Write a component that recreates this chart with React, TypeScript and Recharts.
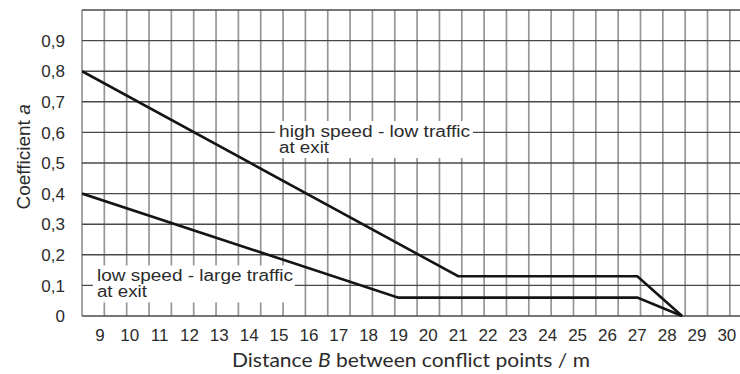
import { LineChart, Line, XAxis, YAxis, CartesianGrid, ReferenceDot, Label } from "recharts"

const xTicks = [9, 10, 11, 12, 13, 14, 15, 16, 17, 18, 19, 20, 21, 22, 23, 24, 25, 26, 27, 28, 29, 30]
const yTicks = [0, 0.1, 0.2, 0.3, 0.4, 0.5, 0.6, 0.7, 0.8, 0.9, 1]

// high speed - low traffic at exit
const highDist = [8.4, 21, 27, 28.5]
const highCoef = [0.8, 0.13, 0.13, 0]
// low speed - large traffic at exit
const lowDist = [8.4, 19, 27, 28.5]
const lowCoef = [0.4, 0.06, 0.06, 0]

const highData = highDist.map((d, i) => ({ dist: d, a: highCoef[i] }))
const lowData = lowDist.map((d, i) => ({ dist: d, a: lowCoef[i] }))

const FONT = "'Liberation Sans', Arial, sans-serif"
const TEXT = "#2b2b2b"

const XTick = ({ x, y, payload }: any) => (
  <text x={x} y={y + 25} textAnchor="middle" fontFamily={FONT} fontSize={17} fill={TEXT}>
    {payload.value}
  </text>
)

const YTick = ({ x, y, payload }: any) => {
  if (payload.value >= 1) return null
  const txt = payload.value === 0 ? "0" : payload.value.toFixed(1).replace(".", ",")
  return (
    <text x={x - 17} y={y} dy="0.36em" textAnchor="end" fontFamily={FONT} fontSize={17} fill={TEXT}>
      {txt}
    </text>
  )
}

const YTitle = ({ viewBox }: any) => {
  const cx = viewBox.x + 30
  const cy = viewBox.y + viewBox.height * 0.48
  return (
    <text transform={`translate(${cx},${cy}) rotate(-90)`} textAnchor="middle" fontFamily={FONT} fontSize={19} fill={TEXT}>
      Coefficient <tspan fontStyle="italic">a</tspan>
    </text>
  )
}

const XTitle = ({ viewBox }: any) => (
  <text
    x={viewBox.x + viewBox.width / 2 - 179}
    y={viewBox.y + 51}
    textLength={358}
    lengthAdjust="spacingAndGlyphs"
    fontFamily="Lato, 'Liberation Sans', sans-serif"
    fontSize={20}
    fill={TEXT}
  >
    Distance <tspan fontStyle="italic">B</tspan> between conflict points / m
  </text>
)

const noteBox = (lines: string[], lens: number[], w: number) => (props: any) => {
  const { cx, cy } = props
  return (
    <g>
      <rect x={cx - 4} y={cy - 16} width={w} height={37} fill="#fff" />
      {lines.map((t, i) => (
        <text
          key={i}
          x={cx}
          y={cy + i * 16}
          textLength={lens[i]}
          lengthAdjust="spacingAndGlyphs"
          fontFamily={FONT}
          fontSize={16}
          fill={TEXT}
        >
          {t}
        </text>
      ))}
    </g>
  )
}

const gridX = ({ offset }: any) => {
  const out: number[] = []
  for (let px = offset.left; px <= offset.left + offset.width + 1; px += 22.34) out.push(px)
  return out
}

export default function App() {
  return (
    <div style={{ position: "absolute", left: 0, top: 0, width: 740, height: 374, background: "#fff" }}>
      <LineChart width={740} height={374} margin={{ top: 10, right: 0, left: 0, bottom: 0 }}>
        <CartesianGrid vertical={true} horizontal={false} stroke="#969696" strokeWidth={1.7} verticalCoordinatesGenerator={gridX} />
        <CartesianGrid vertical={false} horizontal={true} stroke="#484848" strokeWidth={1.4} />
        <XAxis
          type="number"
          dataKey="dist"
          domain={[8.4, 30.44]}
          ticks={xTicks}
          allowDataOverflow
          height={58}
          axisLine={false}
          tickLine={false}
          tickSize={0}
          tickMargin={0}
          tick={<XTick />}
          interval={0}
        >
          <Label content={<XTitle />} />
        </XAxis>
        <YAxis
          type="number"
          domain={[0, 1]}
          ticks={yTicks}
          width={82}
          axisLine={false}
          tickLine={false}
          tickSize={0}
          tickMargin={0}
          tick={<YTick />}
          interval={0}
        >
          <Label content={<YTitle />} />
        </YAxis>
        <ReferenceDot x={15.0} y={0.585} r={0} shape={noteBox(["high speed - low traffic", "at exit"], [191, 50], 198)} />
        <ReferenceDot x={8.9} y={0.113} r={0} shape={noteBox(["low speed - large traffic", "at exit"], [196, 50], 202)} />
        <Line data={highData} dataKey="a" type="linear" stroke="#141414" strokeWidth={2.6} dot={false} isAnimationActive={false} />
        <Line data={lowData} dataKey="a" type="linear" stroke="#141414" strokeWidth={2.6} dot={false} isAnimationActive={false} />
      </LineChart>
    </div>
  )
}
